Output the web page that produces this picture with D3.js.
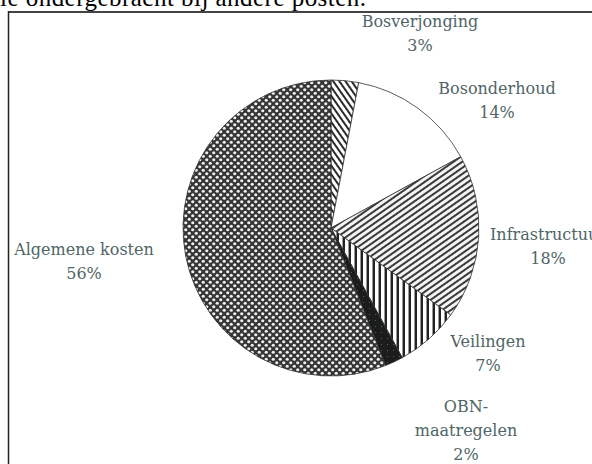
<!DOCTYPE html>
<html>
<head>
<meta charset="utf-8">
<script src="https://cdn.jsdelivr.net/npm/d3@7"></script>
<style>
  body { margin: 0; background: #fff; }
  svg { display: block; }
</style>
</head>
<body>
<svg id="chart" width="592" height="464"></svg>
<script>
  // data, clockwise from 12 o'clock
  const categories = ["Bosverjonging", "Bosonderhoud", "Infrastructuur", "Veilingen", "OBN-maatregelen", "Algemene kosten"];
  const shares = [3, 14, 18, 7, 2, 56];
  const labelLines = [["Bosverjonging"], ["Bosonderhoud"], ["Infrastructuur"], ["Veilingen"], ["OBN-", "maatregelen"], ["Algemene kosten"]];

  const W = 592, H = 464;
  const CX = 331, CY = 228, R = 148;
  const LINE_H = 24;
  const LABEL_COLOR = "#4f6566";

  // label anchors (centre x, first baseline) -- excel moved them round the pie
  const labelAt = [[420, 27], [497, 94], [548, 240], [488, 347], [466, 412], [84, 255]];
  const fills = ["url(#hatchBack)", "#ffffff", "url(#hatchFwd)", "url(#vert)", "url(#obn)", "url(#dots)"];

  const svg = d3.select("#chart");
  const defs = svg.append("defs");

  // steep "\" hatch
  const pb = defs.append("pattern").attr("id", "hatchBack").attr("patternUnits", "userSpaceOnUse")
    .attr("width", 5).attr("height", 5).attr("patternTransform", "rotate(-35)");
  pb.append("rect").attr("width", 5).attr("height", 5).attr("fill", "#fff");
  pb.append("rect").attr("width", 2).attr("height", 5).attr("fill", "#2a2a2a");

  // shallow "/" hatch
  const pf = defs.append("pattern").attr("id", "hatchFwd").attr("patternUnits", "userSpaceOnUse")
    .attr("width", 5).attr("height", 5).attr("patternTransform", "rotate(-35)");
  pf.append("rect").attr("width", 5).attr("height", 5).attr("fill", "#f4f4f4");
  pf.append("rect").attr("width", 5).attr("height", 2).attr("fill", "#3a3a3a");

  // vertical stripes
  const pv = defs.append("pattern").attr("id", "vert").attr("patternUnits", "userSpaceOnUse")
    .attr("width", 6).attr("height", 6);
  pv.append("rect").attr("width", 6).attr("height", 6).attr("fill", "#fff");
  pv.append("rect").attr("width", 2).attr("height", 6).attr("fill", "#222");
  pv.append("rect").attr("x", 5).attr("width", 1).attr("height", 6).attr("fill", "#999");

  // dark slice with a few specks
  const po = defs.append("pattern").attr("id", "obn").attr("patternUnits", "userSpaceOnUse")
    .attr("width", 6).attr("height", 6);
  po.append("rect").attr("width", 6).attr("height", 6).attr("fill", "#1c1c1c");
  po.append("rect").attr("x", 2).attr("y", 2).attr("width", 1).attr("height", 1).attr("fill", "#3f6a6a");

  // crosshatch with white diamonds
  const pd = defs.append("pattern").attr("id", "dots").attr("patternUnits", "userSpaceOnUse")
    .attr("width", 7).attr("height", 7);
  pd.append("rect").attr("width", 7).attr("height", 7).attr("fill", "#363636");
  pd.append("circle").attr("cx", 1.75).attr("cy", 1.75).attr("r", 1.6).attr("fill", "#eeeeee");
  pd.append("circle").attr("cx", 5.25).attr("cy", 5.25).attr("r", 1.6).attr("fill", "#eeeeee");

  // cut-off line of body text above the figure
  svg.append("text")
    .attr("x", 0).attr("y", 6)
    .attr("font-family", "Liberation Serif, Times New Roman, serif")
    .attr("font-size", 25)
    .attr("fill", "#000")
    .attr("textLength", 366)
    .text("le ondergebracht bij andere posten.");

  // frame
  svg.append("line").attr("x1", 8).attr("x2", W).attr("y1", 12).attr("y2", 12)
    .attr("stroke", "#444").attr("stroke-width", 2);
  svg.append("line").attr("x1", 8.5).attr("x2", 8.5).attr("y1", 11).attr("y2", H)
    .attr("stroke", "#222").attr("stroke-width", 1.5);

  const data = categories.map((c, i) => ({ name: c, value: shares[i], i: i }));
  const pie = d3.pie().value(d => d.value).sort(null).startAngle(0).endAngle(2 * Math.PI);
  const arc = d3.arc().innerRadius(0).outerRadius(R);

  const g = svg.append("g").attr("transform", `translate(${CX},${CY})`);
  g.selectAll("path")
    .data(pie(data))
    .join("path")
    .attr("d", arc)
    .attr("fill", d => fills[d.data.i])
    .attr("stroke", "#333")
    .attr("stroke-width", 0.8);

  // labels: name lines + percentage
  const labels = svg.append("g")
    .attr("font-family", "DejaVu Serif, serif")
    .attr("font-size", 16)
    .attr("fill", LABEL_COLOR)
    .attr("text-anchor", "middle");

  data.forEach((d, i) => {
    const lines = labelLines[i].concat([d3.format("d")(d.value) + "%"]);
    const [x, y] = labelAt[i];
    lines.forEach((t, k) => {
      labels.append("text")
        .attr("x", x).attr("y", y + k * LINE_H)
        .text(t);
    });
  });
</script>
</body>
</html>
